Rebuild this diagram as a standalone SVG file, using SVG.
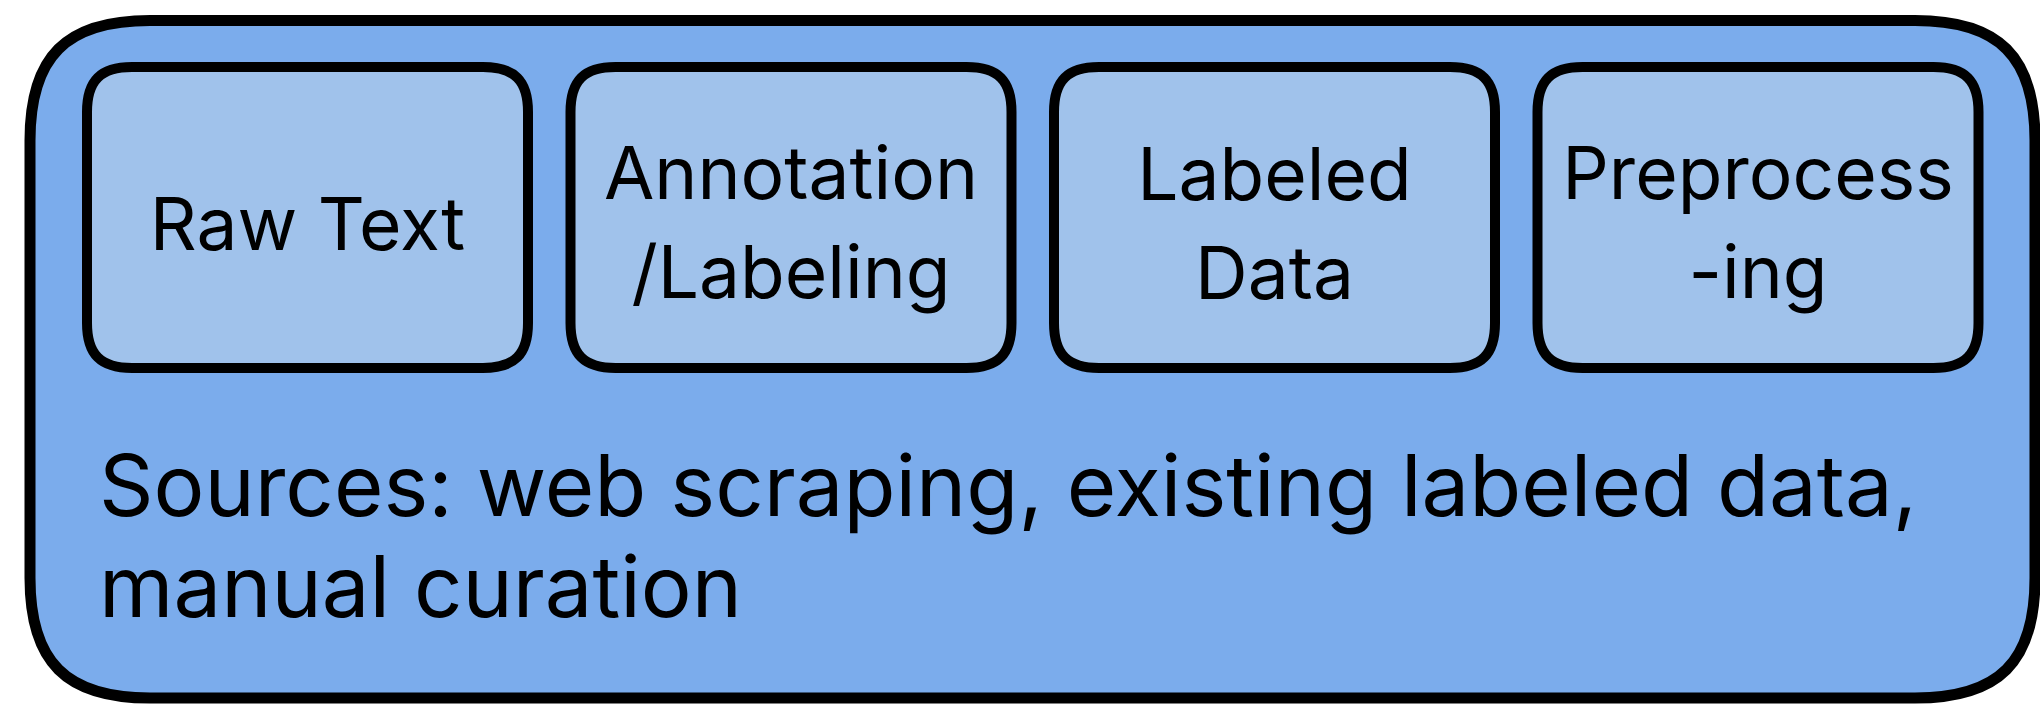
<svg xmlns="http://www.w3.org/2000/svg" xmlns:xlink="http://www.w3.org/1999/xlink" width="2040" height="704" viewBox="0 0 2040 704">
  <style>
    .panel { fill: #7BACEC; stroke: #000; stroke-width: 11; }
    .box { fill: #A0C2EB; stroke: #000; stroke-width: 10; }
    .label { font-family: Inter, Roboto, "Liberation Sans", sans-serif; font-size: 73px; fill: #000; text-anchor: middle; }
    .note { font-family: Inter, Roboto, "Liberation Sans", sans-serif; font-size: 85px; fill: #000; }
  </style>
  <defs>
    <!-- stage card: 441 x 301 with smooth corners -->
    <path id="card" d="M45,0 H396 C427.5,0 441,13.5 441,45 V256 C441,287.5 427.5,301 396,301 H45 C13.5,301 0,287.5 0,256 V45 C0,13.5 13.5,0 45,0 Z"/>
  </defs>

  <!-- container panel -->
  <g id="panel">
    <path class="panel" d="M150,20.5 H1915 C1999,20.5 2035,56.5 2035,140.5 V578 C2035,662 1999,698 1915,698 H150 C66,698 30,662 30,578 V140.5 C30,56.5 66,20.5 150,20.5 Z"/>
    <text class="note" x="99" y="516">Sources: web scraping, existing labeled data,</text>
    <text class="note" x="99" y="617">manual curation</text>
  </g>

  <g id="connectors"></g>

  <g id="raw-text">
    <use class="box" href="#card" xlink:href="#card" x="87" y="67"/>
    <text class="label" x="307.5" y="250">Raw Text</text>
  </g>

  <g id="annotation">
    <use class="box" href="#card" xlink:href="#card" x="570.5" y="67"/>
    <text class="label" x="791" y="199">Annotation</text>
    <text class="label" x="791" y="298">/Labeling</text>
  </g>

  <g id="labeled-data">
    <use class="box" href="#card" xlink:href="#card" x="1054" y="67"/>
    <text class="label" x="1274.5" y="200">Labeled</text>
    <text class="label" x="1274.5" y="299">Data</text>
  </g>

  <g id="preprocessing">
    <use class="box" href="#card" xlink:href="#card" x="1537.5" y="67"/>
    <text class="label" x="1758" y="199">Preprocess</text>
    <text class="label" x="1758" y="298">-ing</text>
  </g>
</svg>
